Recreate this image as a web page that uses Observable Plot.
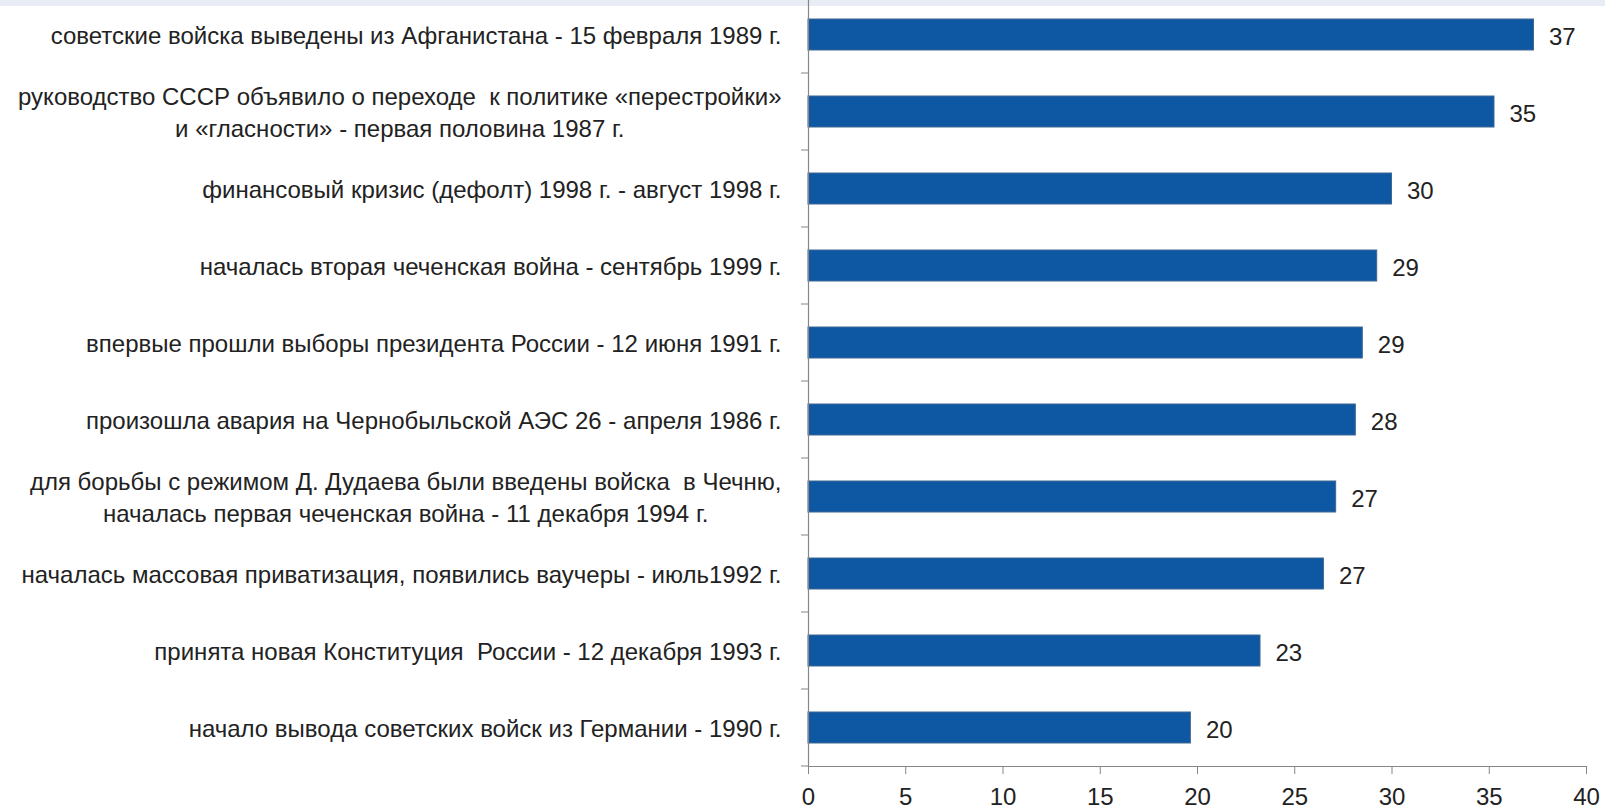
<!DOCTYPE html>
<html><head><meta charset="utf-8">
<script src="https://cdn.jsdelivr.net/npm/d3@7"></script>
<script src="https://cdn.jsdelivr.net/npm/@observablehq/plot@0.6"></script>
<style>
html,body{margin:0;padding:0;background:#fff;}
body{width:1605px;height:811px;overflow:hidden;position:relative;}
#band{position:absolute;left:0;top:0;width:1605px;height:6px;background:#e8ecf4;}
#chart{position:absolute;left:0;top:-4px;}
</style></head><body>
<div id="band"></div>
<div id="chart"></div>
<script>
const categories = [
  "советские войска выведены из Афганистана - 15 февраля 1989 г.",
  "руководство СССР объявило о переходе  к политике «перестройки»\nи «гласности» - первая половина 1987 г.",
  "финансовый кризис (дефолт) 1998 г. - август 1998 г.",
  "началась вторая чеченская война - сентябрь 1999 г.",
  "впервые прошли выборы президента России - 12 июня 1991 г.",
  "произошла авария на Чернобыльской АЭС 26 - апреля 1986 г.",
  "для борьбы с режимом Д. Дудаева были введены войска  в Чечню,\nначалась первая чеченская война - 11 декабря 1994 г.",
  "началась массовая приватизация, появились ваучеры - июль1992 г.",
  "принята новая Конституция  России - 12 декабря 1993 г.",
  "начало вывода советских войск из Германии - 1990 г."
];
const values = [37.3, 35.27, 30.0, 29.24, 28.5, 28.14, 27.13, 26.5, 23.24, 19.66];
const valueLabels = ["37", "35", "30", "29", "29", "28", "27", "27", "23", "20"];
const xTicks = [0, 5, 10, 15, 20, 25, 30, 35, 40];

const FONT = '"Liberation Sans", Arial, sans-serif';
const TEXT = "#222";
const AXIS = "#868686";
const BAR = "#0e57a2";

const ctx = document.createElement("canvas").getContext("2d");
function textWidth(s, size) {
  ctx.font = `${size}px ${FONT}`;
  return Math.max(...s.split("\n").map(l => ctx.measureText(l).width));
}
// fit the label font so the first label spans roughly as wide as in the reference
const labelSize = +(24 * 731 / textWidth(categories[0], 24)).toFixed(1);
const numSize = 24;

const data = categories.map((c, i) => ({category: c, value: values[i], label: valueLabels[i]}));

const labelMarks = categories.map(c => Plot.text([c], {
  x: () => 0, y: d => d, text: d => d,
  textAnchor: "middle", lineAnchor: "middle", lineHeight: 1.3,
  dx: -(27 + textWidth(c, labelSize) / 2), dy: -1,
  fontSize: labelSize, fill: TEXT
}));

const categoryTicks = (index, scales, values, dim) => {
  const g = d3.create("svg:g");
  const step = scales.y(categories[1]) - scales.y(categories[0]);
  const bottom = dim.height - dim.marginBottom;
  const x0 = scales.x(0);
  for (let k = 0; k <= categories.length; k++) {
    const y = bottom - k * step;
    g.append("line").attr("x1", x0 - 7).attr("x2", x0).attr("y1", y).attr("y2", y)
      .attr("stroke", AXIS).attr("stroke-width", 1);
  }
  return g.node();
};

const plot = Plot.plot({
  width: 1605, height: 815,
  marginLeft: 808, marginRight: 19, marginTop: 0, marginBottom: 45,
  style: {fontFamily: FONT, background: "transparent", color: TEXT},
  x: {domain: [0, 40]},
  y: {domain: categories, padding: 0.6, paddingOuter: 0.3, align: 0.5, axis: null},
  marks: [
    Plot.barX(data, {x: "value", y: "category", fill: BAR, stroke: "#3e6894", strokeWidth: 1}),
    Plot.text(data, {x: "value", y: "category", text: "label", textAnchor: "start", dx: 15, dy: 2, fontSize: numSize, fill: TEXT}),
    ...labelMarks,
    Plot.ruleX([0], {stroke: AXIS, strokeWidth: 1.2}),
    Plot.frame({anchor: "bottom", stroke: AXIS, strokeWidth: 1.2}),
    Plot.axisX({ticks: xTicks, tickSize: 8, tickPadding: 13, fontSize: numSize, stroke: AXIS, fill: TEXT, label: null}),
    categoryTicks
  ]
});
document.getElementById("chart").appendChild(plot);
</script>
</body></html>
